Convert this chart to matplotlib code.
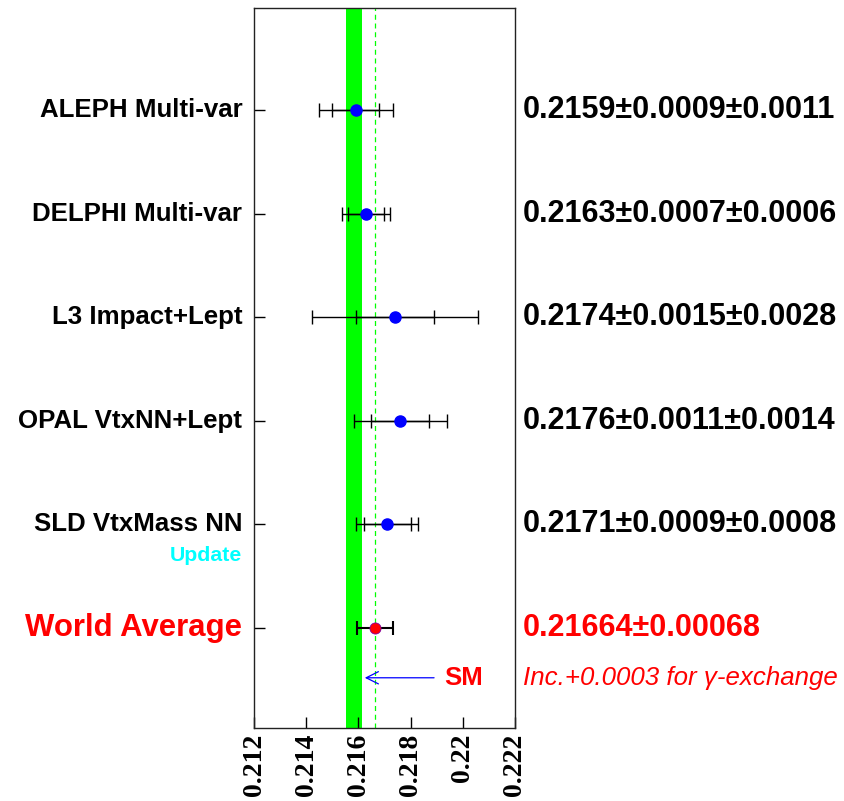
import numpy as np
import matplotlib.pyplot as plt

# measurements of Rb
names = ["ALEPH Multi-var", "DELPHI Multi-var", "L3 Impact+Lept",
         "OPAL VtxNN+Lept", "SLD VtxMass NN"]
values = [0.2159, 0.2163, 0.2174, 0.2176, 0.2171]
stat = [0.0009, 0.0007, 0.0015, 0.0011, 0.0009]
syst = [0.0011, 0.0006, 0.0028, 0.0014, 0.0008]

avg_value = 0.21664
avg_err = 0.00068
sm_band = (0.21552, 0.21614)
xticks = [0.212, 0.214, 0.216, 0.218, 0.22, 0.222]

fig = plt.figure(figsize=(8.44, 8.01), dpi=100)
ax = fig.add_axes([0.301, 0.0911, 0.309, 0.899])

# SM band and average line
ax.axvspan(sm_band[0], sm_band[1], color="#00ff00", lw=0, zorder=1)
ax.axvline(avg_value, color="#00ff00", ls=(0, (4, 3)), lw=0.9, zorder=1)

ys = [6, 5, 4, 3, 2]
for y, v, s1, s2, name in zip(ys, values, stat, syst, names):
    tot = np.hypot(s1, s2)
    ax.errorbar(v, y, xerr=tot, fmt="none", ecolor="black", elinewidth=1.0,
                capsize=5, capthick=1.0, zorder=2)
    ax.errorbar(v, y, xerr=s1, fmt="none", ecolor="black", elinewidth=1.0,
                capsize=5, capthick=1.0, zorder=2)
    ax.plot(v, y, "o", color="#0000ff", ms=8, zorder=3)
    ax.text(-0.045, y, name, transform=ax.get_yaxis_transform(),
            ha="right", va="center", fontsize=18.6, fontweight="bold",
            family="Liberation Sans")
    ax.text(1.03, y, "%.4f±%.4f±%.4f" % (v, s1, s2),
            transform=ax.get_yaxis_transform(), ha="left", va="center",
            fontsize=22, fontweight="bold", family="Liberation Sans")

ax.text(-0.045, 1.7, "Update", transform=ax.get_yaxis_transform(),
        ha="right", va="center", fontsize=15.3, fontweight="bold",
        color="#00ffff", family="Liberation Sans")

# world average
ax.errorbar(avg_value, 1, xerr=avg_err, fmt="none", ecolor="black",
            elinewidth=1.5, capsize=5, capthick=1.5, zorder=2)
ax.plot(avg_value, 1, "o", color="#ff0000", mec="#8000a0", mew=0.6, ms=8, zorder=3)
ax.text(-0.045, 1, "World Average", transform=ax.get_yaxis_transform(),
        ha="right", va="center", fontsize=22.4, fontweight="bold",
        color="#ff0000", family="Liberation Sans")
ax.text(1.03, 1, "%.5f±%.5f" % (avg_value, avg_err),
        transform=ax.get_yaxis_transform(), ha="left", va="center",
        fontsize=22, fontweight="bold", color="#ff0000", family="Liberation Sans")

# SM arrow
ax.annotate("", xy=(sm_band[1], 0.52), xytext=(0.21901, 0.52),
            arrowprops=dict(arrowstyle="->", color="#0000ff", lw=0.9,
                            mutation_scale=22))
ax.text(0.2193, 0.52, "SM", ha="left", va="center", fontsize=18.5,
        fontweight="bold", color="#ff0000", family="Liberation Sans")
ax.text(1.03, 0.52, "Inc.+0.0003 for γ-exchange",
        transform=ax.get_yaxis_transform(), ha="left", va="center",
        fontsize=18.6, style="italic", color="#ff0000", family="Liberation Sans")

ax.set_xlim(0.212, 0.222)
ax.set_ylim(0.035, 6.985)
ax.set_xticks(xticks)
ax.set_xticklabels(["%g" % t for t in xticks], rotation=90,
                   fontsize=20, fontweight="bold", family="Liberation Serif")
ax.set_yticks(range(1, 7))
ax.set_yticklabels([])
ax.tick_params(axis="x", direction="in", length=8, width=1, pad=4)
ax.tick_params(axis="y", direction="in", length=8, width=1)
for sp in ax.spines.values():
    sp.set_linewidth(1.0)
    sp.set_color("#222222")

fig.savefig("out.png", dpi=100)
